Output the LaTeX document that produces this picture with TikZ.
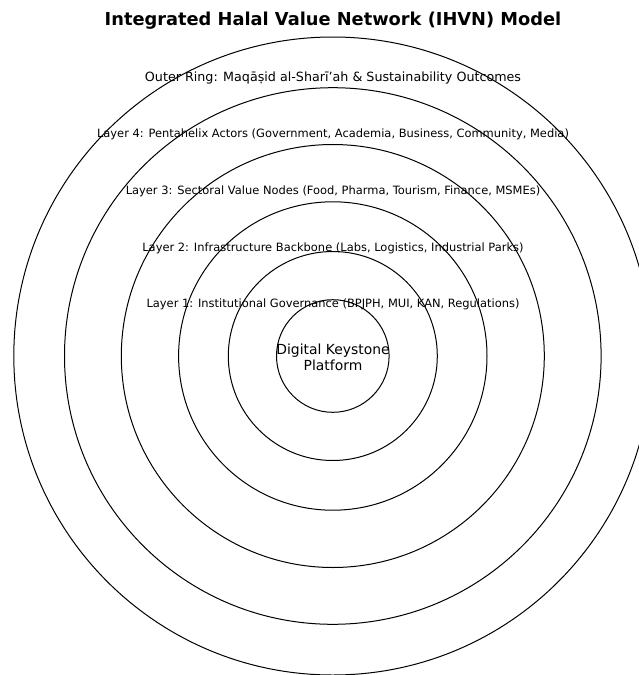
\documentclass[tikz,border=0pt]{standalone}
\usepackage{fontspec}
\setmainfont{DejaVu Sans}
\begin{document}
\begin{tikzpicture}[x=1pt,y=-1pt,
  ring/.style={draw=black,line width=1pt,circle,minimum size=#1,inner sep=0pt},
  lab/.style={font=\fontsize{11.45}{13}\selectfont,inner sep=0pt},
]
\useasboundingbox (0,0) rectangle (638,675);
\coordinate (c) at (332.8,356);
\node[ring=638pt] (r6) at (c) {};
\node[ring=536.6pt] (r5) at (c) {};
\node[ring=423pt] (r4) at (c) {};
\node[ring=308.4pt] (r3) at (c) {};
\node[ring=209pt] (r2) at (c) {};
\node[ring=112.6pt] (r1) at (c) {};
\node[font=\fontsize{17.8}{20}\selectfont\bfseries,inner sep=0pt] (title) at (333,20.5) {Integrated Halal Value Network (IHVN) Model};
\node[font=\fontsize{12.7}{14}\selectfont,inner sep=0pt] (outer) at (333,78) {Outer Ring: Maqāṣid al-Sharī’ah \& Sustainability Outcomes};
\node[lab] (l4) at (333,134.5) {Layer 4: Pentahelix Actors (Government, Academia, Business, Community, Media)};
\node[lab] (l3) at (333,191.5) {Layer 3: Sectoral Value Nodes (Food, Pharma, Tourism, Finance, MSMEs)};
\node[lab] (l2) at (333,248.5) {Layer 2: Infrastructure Backbone (Labs, Logistics, Industrial Parks)};
\node[lab] (l1) at (333,304.5) {Layer 1: Institutional Governance (BPJPH, MUI, KAN, Regulations)};
\node[font=\fontsize{13.9}{16}\selectfont,align=center,inner sep=0pt] (core) at (333,357.5) {Digital Keystone\\Platform};
\end{tikzpicture}
\end{document}
